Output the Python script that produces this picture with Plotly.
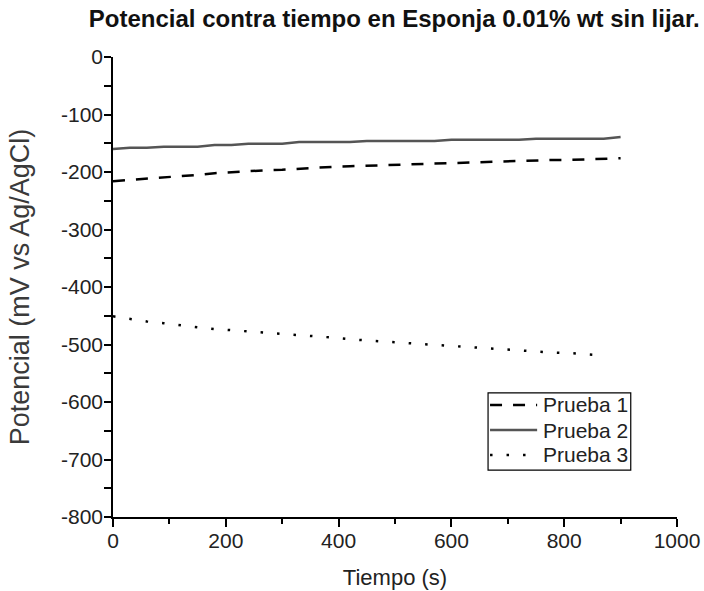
import plotly.graph_objects as go

# Tiempo de muestreo (s)
tiempo = [0, 30, 60, 90, 120, 150, 180, 210, 240, 270, 300, 330, 360, 390, 420,
          450, 480, 510, 540, 570, 600, 630, 660, 690, 720, 750, 780, 810, 840, 870, 900]

# Potencial (mV vs Ag/AgCl) de cada prueba
prueba_1 = [-216, -214, -211, -209, -207, -205, -202, -200, -199, -197, -196, -194,
            -192, -191, -190, -189, -188, -187, -186, -185, -184, -183, -182, -181,
            -180, -180, -179, -179, -178, -178, -176]
prueba_2 = [-160, -158, -158, -156, -156, -156, -153, -153, -151, -151, -151, -148,
            -148, -148, -148, -146, -146, -146, -146, -146, -144, -144, -144, -144,
            -144, -142, -142, -142, -142, -142, -139]
tiempo_3 = tiempo[:-1]
prueba_3 = [-451, -456, -460, -463, -467, -470, -473, -475, -478, -480, -482, -484,
            -486, -488, -491, -493, -495, -497, -499, -501, -503, -505, -507, -509,
            -510, -512, -514, -515, -517, -519]

# Marcas de los ejes
x_ticks = [0, 200, 400, 600, 800, 1000]
y_ticks = [0, -100, -200, -300, -400, -500, -600, -700, -800]
y_ticktext = ["0", "-100", "-200", "-300", "-400", "-500", "-600", "-700", "-800"]

fuente = "Liberation Sans, Arial, sans-serif"

series = [
    dict(x=tiempo, y=prueba_1, name="Prueba 1", color="black", dash="12px,11px"),
    dict(x=tiempo, y=prueba_2, name="Prueba 2", color="#555555", dash="solid"),
    dict(x=tiempo_3, y=prueba_3, name="Prueba 3", color="black", dash="2.5px,14px"),
]

fig = go.Figure()
for s in series:
    fig.add_trace(go.Scatter(x=s["x"], y=s["y"], mode="lines", name=s["name"],
                             showlegend=False,
                             line=dict(color=s["color"], width=2.5, dash=s["dash"])))

# Leyenda en recuadro (coordenadas relativas al área de trazado)
caja = dict(x0=0.665, x1=0.918, y0=0.102, y1=0.270)
filas_y = [0.2435, 0.189, 0.135]
muestra_x = (0.6685, 0.752)
texto_x = 0.759

shapes = [dict(type="rect", xref="paper", yref="paper", **caja,
               line=dict(color="black", width=1.2), fillcolor="white", layer="above")]
annotations = []
for s, fy in zip(series, filas_y):
    shapes.append(dict(type="line", xref="paper", yref="paper",
                       x0=muestra_x[0], x1=muestra_x[1], y0=fy, y1=fy, layer="above",
                       line=dict(color=s["color"], width=2.5, dash=s["dash"])))
    annotations.append(dict(text=s["name"], xref="paper", yref="paper",
                            x=texto_x, y=fy, xanchor="left", yanchor="middle",
                            showarrow=False,
                            font=dict(family=fuente, size=21, color="#222222")))

fig.update_layout(
    width=704, height=591,
    margin=dict(l=113, r=27, t=57, b=74, autoexpand=False),
    paper_bgcolor="white", plot_bgcolor="white",
    font=dict(family=fuente, color="#222222", size=21),
    title=dict(text="<b>Potencial contra tiempo en Esponja 0.01% wt sin lijar.</b>",
               x=0.56, xanchor="center", y=0.968, yanchor="middle",
               font=dict(family=fuente, size=24, color="#111111")),
    showlegend=False,
    shapes=shapes,
    annotations=annotations,
)
fig.update_xaxes(
    range=[0, 1000], tickvals=x_ticks, automargin=False,
    showline=True, linecolor="black", linewidth=1.5, mirror=False,
    ticks="outside", ticklen=8, tickwidth=1.5, tickcolor="black",
    minor=dict(dtick=100, ticks="outside", ticklen=5, tickwidth=1.5, tickcolor="black"),
    tickfont=dict(size=21), ticklabelstandoff=-4,
    showgrid=False, zeroline=False,
    title=dict(text="Tiempo (s)", font=dict(size=22), standoff=19),
)
fig.update_yaxes(
    range=[-800, 0], tickvals=y_ticks, ticktext=y_ticktext, automargin=False,
    showline=True, linecolor="black", linewidth=1.5, mirror=False,
    ticks="outside", ticklen=7, tickwidth=1.5, tickcolor="black",
    minor=dict(dtick=50, ticks="outside", ticklen=7, tickwidth=1.5, tickcolor="black"),
    tickfont=dict(size=21), ticklabelstandoff=-3,
    showgrid=False, zeroline=False,
    title=dict(text="Potencial (mV vs Ag/AgCl)", font=dict(size=27, color="#3a3a3a"),
               standoff=24),
)

fig.write_html("out.html")
